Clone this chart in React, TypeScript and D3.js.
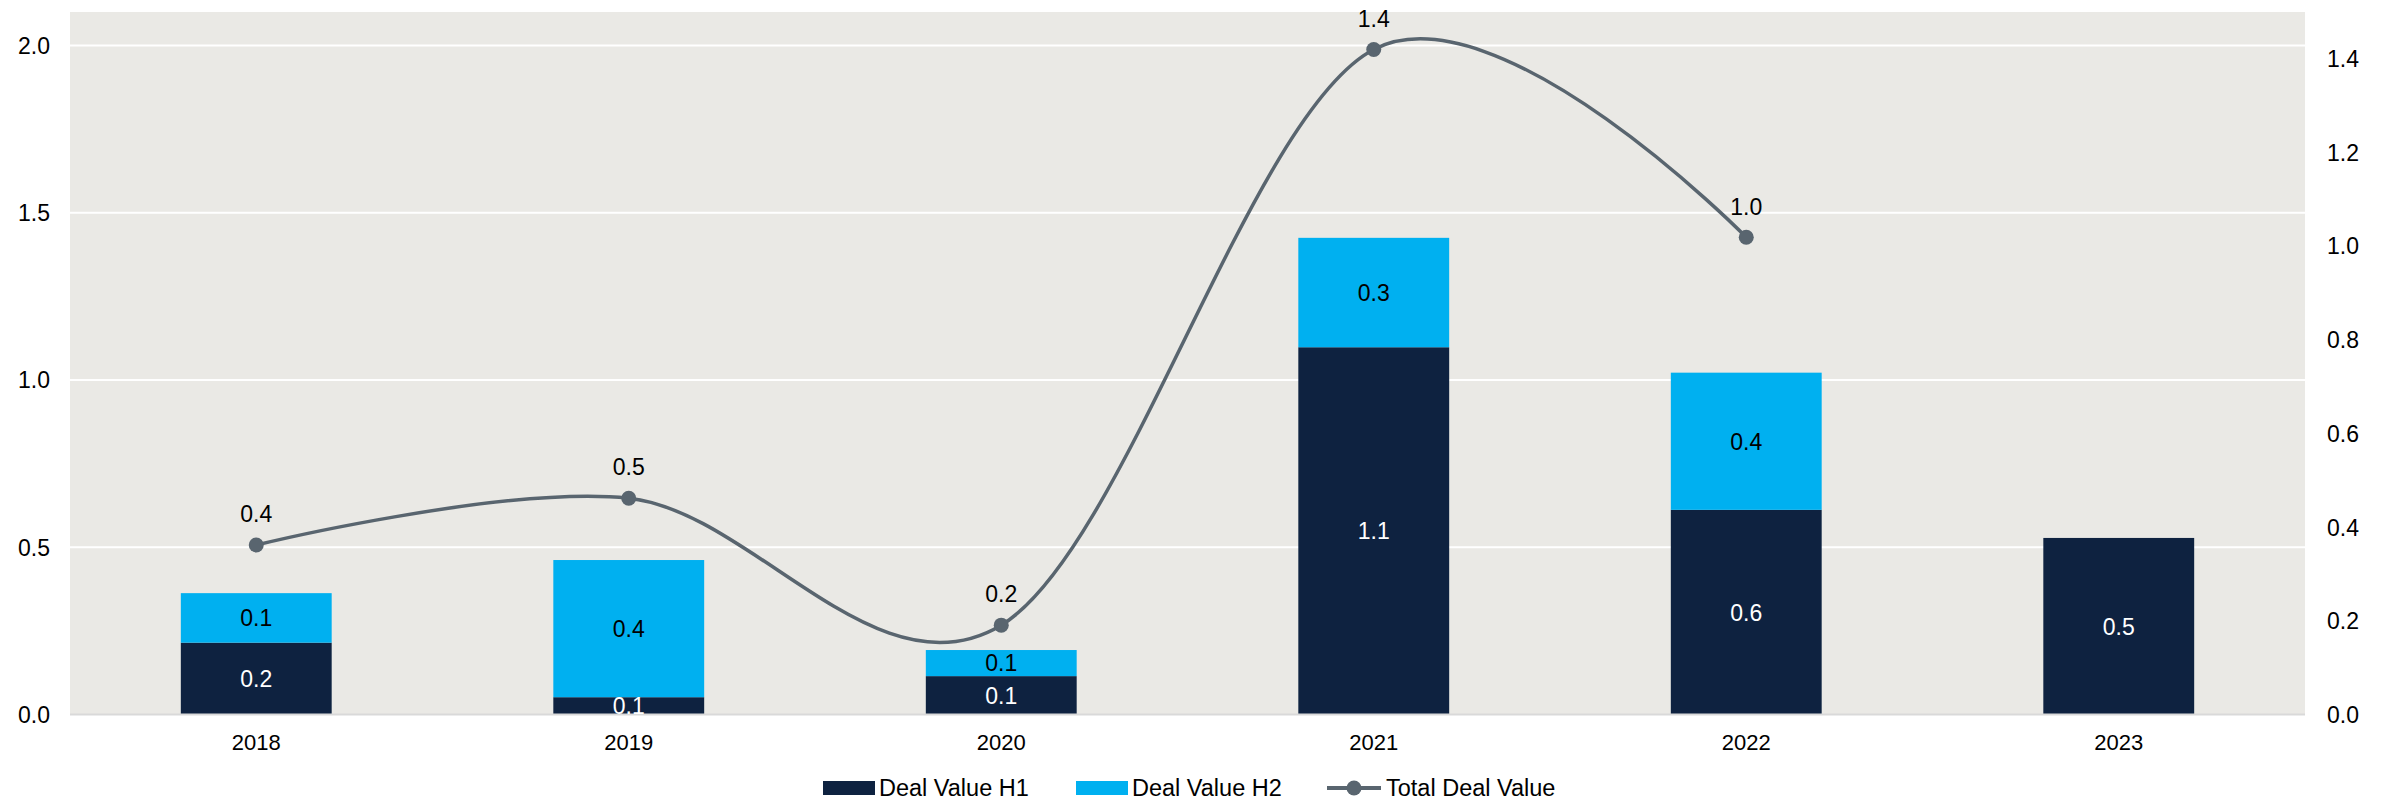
import React from "react";
import * as d3 from "d3";

const years = ["2018", "2019", "2020", "2021", "2022", "2023"];
const dealH1 = [0.215, 0.052, 0.115, 1.098, 0.612, 0.528];
const dealH2 = [0.148, 0.41, 0.078, 0.327, 0.41, 0];
const totalYears = ["2018", "2019", "2020", "2021", "2022"];
const totalValues = [0.362, 0.462, 0.191, 1.42, 1.019];
const leftTicks = [0, 0.5, 1.0, 1.5, 2.0];
const rightTicks = [0, 0.2, 0.4, 0.6, 0.8, 1.0, 1.2, 1.4];

const W = 2389;
const H = 803;
const plot = { left: 70, right: 2305, top: 12, bottom: 714.6 };
const C_H1 = "#0E2240";
const C_H2 = "#00B0F0";
const C_LINE = "#59656F";
const BG = "#EAE9E5";
const FONT = "'Liberation Sans', Arial, sans-serif";
const FS = 23;
const fmt = d3.format(".1f");

export default function App() {
  const x = d3.scaleBand<string>().domain(years).range([plot.left, plot.right]).padding(0);
  const bw = x.bandwidth() * 0.405;
  const cx = (y: string) => (x(y) as number) + x.bandwidth() / 2;
  const yL = d3.scaleLinear().domain([0, 2.1]).range([plot.bottom, plot.top]);
  const yR = d3.scaleLinear().domain([0, 1.5]).range([plot.bottom, plot.top]);

  const pts: [number, number][] = totalYears.map((yr, i) => [cx(yr), yR(totalValues[i])]);
  const line = d3.line().curve(d3.curveCardinal.tension(0))(pts) || "";
  const LY = 788;

  return (
    <svg width={W} height={H} style={{ position: "absolute", left: 0, top: 0, display: "block", background: "#fff" }} fontFamily={FONT}>
      <defs>
        <clipPath id="plotclip">
          <rect x={plot.left} y={plot.top} width={plot.right - plot.left} height={plot.bottom - plot.top} />
        </clipPath>
      </defs>
      <rect x={plot.left} y={plot.top} width={plot.right - plot.left} height={plot.bottom - plot.top} fill={BG} />
      {leftTicks.filter((t) => t > 0).map((t) => (
        <line key={"g" + t} x1={plot.left} x2={plot.right} y1={yL(t)} y2={yL(t)} stroke="#FFFFFF" strokeWidth={2} />
      ))}
      {years.map((yr, i) => {
        const x0 = cx(yr) - bw / 2;
        const h1top = yL(dealH1[i]);
        const h2top = yL(dealH1[i] + dealH2[i]);
        return (
          <g key={"b" + yr}>
            <rect x={x0} y={h1top} width={bw} height={plot.bottom - h1top} fill={C_H1} />
            {dealH2[i] > 0 && <rect x={x0} y={h2top} width={bw} height={h1top - h2top} fill={C_H2} />}
          </g>
        );
      })}
      <line x1={plot.left} x2={plot.right} y1={plot.bottom} y2={plot.bottom} stroke="#D9D9D9" strokeWidth={2} />
      <g clipPath="url(#plotclip)" fontSize={FS} textAnchor="middle">
        {years.map((yr, i) => {
          const h1top = yL(dealH1[i]);
          const h2top = yL(dealH1[i] + dealH2[i]);
          return (
            <g key={"l" + yr}>
              <text x={cx(yr)} y={(h1top + plot.bottom) / 2} dy="0.36em" fill="#FFFFFF">{fmt(dealH1[i])}</text>
              {dealH2[i] > 0 && (
                <text x={cx(yr)} y={(h1top + h2top) / 2} dy="0.36em" fill="#000000">{fmt(dealH2[i])}</text>
              )}
            </g>
          );
        })}
      </g>
      <path d={line} fill="none" stroke={C_LINE} strokeWidth={3.5} />
      {pts.map((p, i) => (
        <g key={"p" + i}>
          <circle cx={p[0]} cy={p[1]} r={7.5} fill={C_LINE} />
          <text x={p[0]} y={p[1] - 31} dy="0.36em" fontSize={FS} textAnchor="middle" fill="#000">{fmt(totalValues[i])}</text>
        </g>
      ))}
      {leftTicks.map((t) => (
        <text key={"lt" + t} x={50} y={yL(t)} dy="0.36em" fontSize={FS} textAnchor="end" fill="#000">{fmt(t)}</text>
      ))}
      {rightTicks.map((t) => (
        <text key={"rt" + t} x={2327} y={yR(t)} dy="0.36em" fontSize={FS} textAnchor="start" fill="#000">{fmt(t)}</text>
      ))}
      {years.map((yr) => (
        <text key={"xt" + yr} x={cx(yr)} y={741.7} dy="0.36em" fontSize={22} textAnchor="middle" fill="#000">{yr}</text>
      ))}
      <g fontSize={23.5} fill="#000">
        <rect x={823} y={LY - 7} width={52} height={14} fill={C_H1} />
        <text x={879} y={LY} dy="0.36em">Deal Value H1</text>
        <rect x={1076} y={LY - 7} width={52} height={14} fill={C_H2} />
        <text x={1132} y={LY} dy="0.36em">Deal Value H2</text>
        <line x1={1327} x2={1381} y1={LY} y2={LY} stroke={C_LINE} strokeWidth={4} />
        <circle cx={1354} cy={LY} r={7.5} fill={C_LINE} />
        <text x={1386} y={LY} dy="0.36em">Total Deal Value</text>
      </g>
    </svg>
  );
}
